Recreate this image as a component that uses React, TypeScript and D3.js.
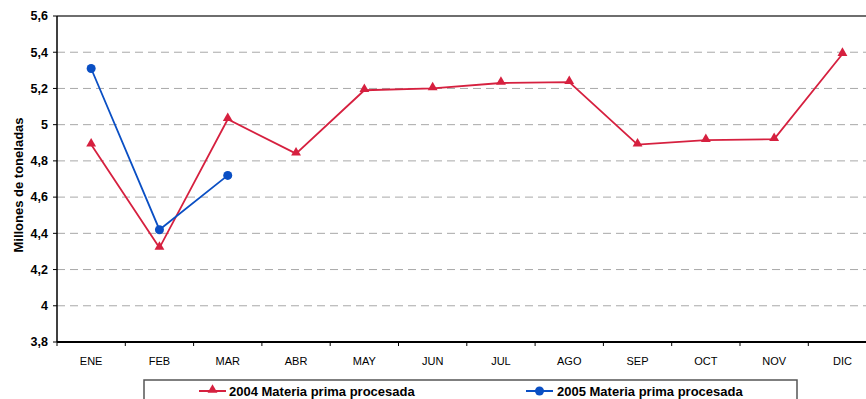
import React from "react";
import * as d3 from "d3";

const months = ["ENE", "FEB", "MAR", "ABR", "MAY", "JUN", "JUL", "AGO", "SEP", "OCT", "NOV", "DIC"];
const values2004 = [4.89, 4.32, 5.03, 4.84, 5.19, 5.2, 5.23, 5.235, 4.89, 4.915, 4.92, 5.39];
const values2005 = [5.31, 4.42, 4.72];
const yTicks = [3.8, 4, 4.2, 4.4, 4.6, 4.8, 5, 5.2, 5.4, 5.6];
const seriesNames = ["2004 Materia prima procesada", "2005 Materia prima procesada"];

const W = 866;
const H = 399;
const left = 57;
const top = 16;
const bottom = 342;
const bandW = 68.3;
const right = left + bandW * 12;

const RED = "#d6203f";
const BLUE = "#0a4fc4";

export default function App() {
  const x = d3.scaleBand<string>().domain(months).range([left, right]).padding(0);
  const y = d3.scaleLinear().domain([3.8, 5.6]).range([bottom, top]);
  const cx = (m: string) => (x(m) as number) + x.bandwidth() / 2;
  const fmt = (v: number) => String(Math.round(v * 10) / 10).replace(".", ",");

  const line = d3.line<[number, number]>().x((d) => d[0]).y((d) => d[1]);
  const pts2004: [number, number][] = values2004.map((v, i) => [cx(months[i]), y(v)]);
  const pts2005: [number, number][] = values2005.map((v, i) => [cx(months[i]), y(v)]);
  const tri = d3.symbol().type(d3.symbolTriangle).size(42)();

  return (
    <svg width={W} height={H} style={{ position: "absolute", left: 0, top: 0, fontFamily: "'Liberation Sans', Arial, sans-serif" }}>
      <rect x={0} y={0} width={W} height={H} fill="#fff" />
      {yTicks.map((t) =>
        t === 3.8 ? null : t === 5.6 ? (
          <line key={t} x1={left} x2={W} y1={y(t)} y2={y(t)} stroke="#6e6e6e" strokeWidth={2} />
        ) : (
          <line key={t} x1={left} x2={W} y1={y(t)} y2={y(t)} stroke="#a8a8a8" strokeWidth={1} strokeDasharray="8,5" />
        )
      )}
      <line x1={left} x2={left} y1={top} y2={bottom} stroke="#000" strokeWidth={1.5} />
      <line x1={left} x2={W} y1={bottom} y2={bottom} stroke="#000" strokeWidth={2} />
      {yTicks.map((t) => (
        <g key={t}>
          <line x1={left - 4} x2={left} y1={y(t)} y2={y(t)} stroke="#000" strokeWidth={1} />
          <text x={48} y={y(t)} dy="0.35em" textAnchor="end" fontSize={12.5} fontWeight="bold">
            {fmt(t)}
          </text>
        </g>
      ))}
      {months.map((m) => (
        <g key={m}>
          <line x1={x(m) as number} x2={x(m) as number} y1={bottom} y2={bottom + 4} stroke="#000" />
          <text x={cx(m)} y={361} dy="0.35em" textAnchor="middle" fontSize={11}>
            {m}
          </text>
        </g>
      ))}
      <text transform={`translate(18,185) rotate(-90)`} textAnchor="middle" dy="0.35em" fontSize={13} fontWeight="bold">
        Millones de toneladas
      </text>
      <path d={line(pts2004) || ""} fill="none" stroke={RED} strokeWidth={1.8} />
      {pts2004.map((p, i) => (
        <path key={i} d={tri || ""} transform={`translate(${p[0]},${p[1] - 1})`} fill={RED} />
      ))}
      <path d={line(pts2005) || ""} fill="none" stroke={BLUE} strokeWidth={1.8} />
      {pts2005.map((p, i) => (
        <circle key={i} cx={p[0]} cy={p[1]} r={4.5} fill={BLUE} />
      ))}
      <rect x={144} y={380} width={653} height={30} fill="#fff" stroke="#555" strokeWidth={1.5} />
      <line x1={199} x2={226} y1={391} y2={391} stroke={RED} strokeWidth={2} />
      <path d={tri || ""} transform={`translate(212.5,390)`} fill={RED} />
      <text x={229} y={391} dy="0.35em" fontSize={13} fontWeight="bold">
        {seriesNames[0]}
      </text>
      <line x1={526} x2={553} y1={391} y2={391} stroke={BLUE} strokeWidth={2} />
      <circle cx={539.5} cy={391} r={4.5} fill={BLUE} />
      <text x={557} y={391} dy="0.35em" fontSize={13} fontWeight="bold">
        {seriesNames[1]}
      </text>
    </svg>
  );
}
